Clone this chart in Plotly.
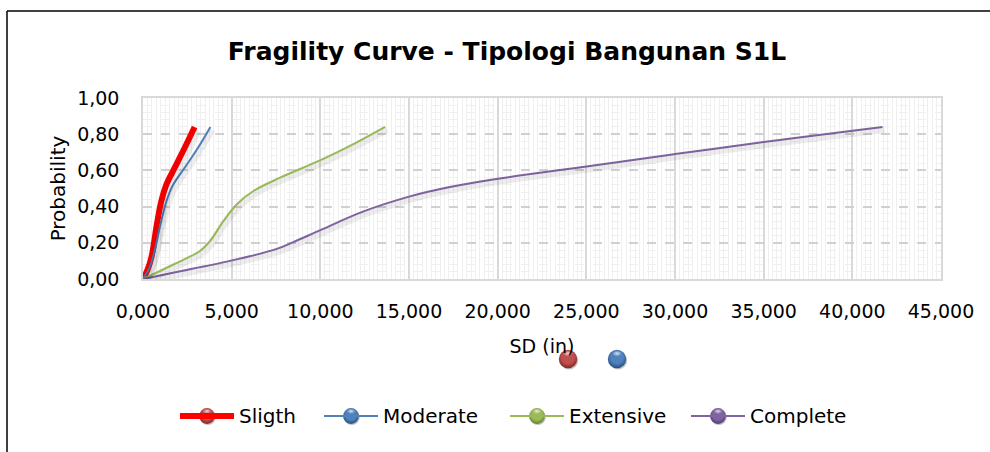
import base64
import plotly.graph_objects as go

# Spectral displacement (in) and probability of reaching each damage state
slight_sd = [0, 0.25, 0.47, 0.62, 0.75, 1.03, 1.31, 1.79, 2.35, 2.91]
slight_p = [0, 0.05, 0.118, 0.20, 0.283, 0.43, 0.52, 0.615, 0.725, 0.84]

moderate_sd = [0, 0.36, 0.66, 0.94, 1.32, 1.69, 2.35, 3.10, 3.80]
moderate_p = [0, 0.06, 0.155, 0.283, 0.43, 0.52, 0.615, 0.725, 0.84]

extensive_sd = [0, 1.71, 3.21, 3.78, 4.53, 5.28, 6.22, 7.73, 9.98, 11.86, 13.65]
extensive_p = [0, 0.08, 0.155, 0.21, 0.32, 0.412, 0.486, 0.56, 0.655, 0.745, 0.84]

complete_sd = [0, 1.7, 4.9, 7.5, 8.5, 10.0, 12.4, 15.0, 17.3, 20.0, 25.0, 30.0, 35.0, 40.0, 41.7]
complete_p = [0, 0.035, 0.10, 0.165, 0.205, 0.27, 0.372, 0.455, 0.508, 0.554, 0.622, 0.69, 0.757, 0.819, 0.84]

series_names = ["Sligth", "Moderate", "Extensive", "Complete"]
line_colors = ["#ff0000", "#4f81bd", "#9bbb59", "#8064a2"]
sphere_main = ["#c0504d", "#4f81bd", "#9bbb59", "#8064a2"]
sphere_dark = ["#7a2320", "#244a78", "#5d7a25", "#4a3670"]
line_widths = [6, 2, 2, 2]

x_ticks = [0, 5, 10, 15, 20, 25, 30, 35, 40, 45]
y_ticks = [0, 0.2, 0.4, 0.6, 0.8, 1.0]

series = [
    (slight_sd, slight_p),
    (moderate_sd, moderate_p),
    (extensive_sd, extensive_p),
    (complete_sd, complete_p),
]

W, H = 990, 452
L, R, T, B = 143, 49, 98, 173
PW, PH = W - L - R, H - T - B
FONT = "DejaVu Sans"


def px_x(p):
    return (p - L) / PW


def px_y(p):
    return (H - B - p) / PH


def sphere_uri(main, dark):
    svg = (
        '<svg xmlns="http://www.w3.org/2000/svg" width="48" height="48" viewBox="0 0 48 48">'
        '<defs>'
        '<radialGradient id="b" cx="50%" cy="40%" r="62%">'
        f'<stop offset="0%" stop-color="{main}"/>'
        f'<stop offset="55%" stop-color="{main}"/>'
        f'<stop offset="100%" stop-color="{dark}"/>'
        '</radialGradient>'
        '<radialGradient id="h" cx="50%" cy="30%" r="45%">'
        '<stop offset="0%" stop-color="#ffffff" stop-opacity="0.75"/>'
        '<stop offset="100%" stop-color="#ffffff" stop-opacity="0"/>'
        '</radialGradient>'
        '<filter id="s" x="-30%" y="-30%" width="160%" height="160%">'
        '<feGaussianBlur stdDeviation="1.6"/></filter>'
        '</defs>'
        '<circle cx="26" cy="27" r="20" fill="#000" fill-opacity="0.25" filter="url(#s)"/>'
        '<circle cx="24" cy="24" r="20" fill="url(#b)"/>'
        '<ellipse cx="24" cy="15" rx="12" ry="8" fill="url(#h)"/>'
        '</svg>'
    )
    return "data:image/svg+xml;base64," + base64.b64encode(svg.encode()).decode()


fig = go.Figure()

# soft drop shadows drawn on an offset overlay axis pair
sx = 2 * 45 / PW
sy = 3 * 1.0 / PH
for (xs, ys), w in zip(series, line_widths):
    fig.add_trace(go.Scatter(
        x=xs, y=ys, xaxis="x2", yaxis="y2", mode="lines",
        line=dict(color="rgba(0,0,0,0.07)", width=w + 4, shape="spline"),
        showlegend=False, hoverinfo="skip",
    ))

for (xs, ys), name, c, w in zip(series, series_names, line_colors, line_widths):
    fig.add_trace(go.Scatter(
        x=xs, y=ys, mode="lines", name=name,
        line=dict(color=c, width=w, shape="spline"),
        showlegend=False,
    ))

shapes = [
    dict(type="line", xref="paper", yref="paper",
         x0=px_x(7), x1=px_x(W + 2), y0=px_y(11), y1=px_y(11),
         line=dict(color="#000000", width=1.5)),
    dict(type="line", xref="paper", yref="paper",
         x0=px_x(7), x1=px_x(7), y0=px_y(11), y1=px_y(H + 2),
         line=dict(color="#000000", width=1.5)),
]
images = []
annotations = []

# legend row: line, sphere and label for each damage state
legend_starts = [180, 324, 510, 691]
legend_y = 416
seg = 54
for x0, name, c, w, m, d in zip(legend_starts, series_names, line_colors,
                                line_widths, sphere_main, sphere_dark):
    shapes.append(dict(type="line", xref="paper", yref="paper",
                       x0=px_x(x0), x1=px_x(x0 + seg),
                       y0=px_y(legend_y), y1=px_y(legend_y),
                       line=dict(color=c, width=w)))
    images.append(dict(source=sphere_uri(m, d), xref="paper", yref="paper",
                       x=px_x(x0 + seg / 2), y=px_y(legend_y),
                       sizex=19 / PW, sizey=19 / PH,
                       xanchor="center", yanchor="middle",
                       sizing="contain", layer="above"))
    annotations.append(dict(text=name, xref="paper", yref="paper",
                            x=px_x(x0 + seg + 3), y=px_y(legend_y),
                            xanchor="left", yanchor="middle", showarrow=False,
                            font=dict(family=FONT, size=20, color="#000000")))

# two loose spheres beside the axis title (red and blue)
for (cx, cy), i in zip([(568, 359), (617, 359)], [0, 1]):
    images.append(dict(source=sphere_uri(sphere_main[i], sphere_dark[i]),
                       xref="paper", yref="paper",
                       x=px_x(cx), y=px_y(cy), sizex=22 / PW, sizey=22 / PH,
                       xanchor="center", yanchor="middle",
                       sizing="contain", layer="above"))

axis_font = dict(family=FONT, size=19, color="#000000")

fig.update_layout(
    width=W, height=H,
    margin=dict(l=L, r=R, t=T, b=B, pad=0),
    paper_bgcolor="white", plot_bgcolor="white",
    separators=",.",
    showlegend=False,
    title=dict(
        text="<b>Fragility Curve - Tipologi Bangunan S1L</b>",
        font=dict(family=FONT, size=25, color="#000000"),
        x=507 / W, xanchor="center", xref="container",
        y=1 - 51 / H, yanchor="middle", yref="container",
    ),
    xaxis=dict(
        range=[0, 45], tickvals=x_ticks, tickformat=".3f",
        tickfont=axis_font, ticks="", ticklabelstandoff=14,
        showgrid=True, gridcolor="#d9d9d9", gridwidth=1.5,
        minor=dict(dtick=0.25, showgrid=True, gridcolor="#efefef", gridwidth=1),
        showline=True, linecolor="#d9d9d9", linewidth=1.5, mirror=True,
        zeroline=False,
        title=dict(text="SD (in)", font=dict(family=FONT, size=19, color="#000000"), standoff=19),
    ),
    yaxis=dict(
        range=[0, 1], tickvals=y_ticks, tickformat=".2f",
        tickfont=axis_font, ticks="", ticklabelstandoff=18,
        showgrid=True, gridcolor="#d0d0d0", gridwidth=1.5, griddash="dash",
        minor=dict(dtick=0.04, showgrid=True, gridcolor="#efefef", gridwidth=1),
        showline=True, linecolor="#d9d9d9", linewidth=1.5, mirror=True,
        zeroline=False,
        title=dict(text="Probability", font=dict(family=FONT, size=20, color="#000000"), standoff=6),
    ),
    xaxis2=dict(overlaying="x", range=[0 - sx, 45 - sx], visible=False),
    yaxis2=dict(overlaying="y", range=[0 + sy, 1 + sy], visible=False),
    shapes=shapes,
    images=images,
    annotations=annotations,
)

fig.write_html("out.html")
